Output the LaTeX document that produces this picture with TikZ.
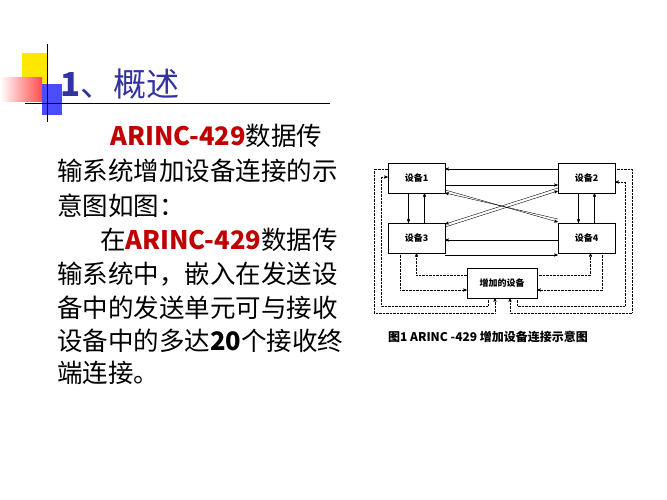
\documentclass[tikz,border=0pt]{standalone}
\usepackage{fontspec}
\setmainfont{Liberation Serif}
\newfontfamily\cjk{Noto Sans CJK SC}
\usetikzlibrary{arrows}

\definecolor{titleblue}{HTML}{3333A0}
\definecolor{arincred}{HTML}{C00000}

\tikzset{
  dev/.style={draw, minimum width=57pt, minimum height=30pt, inner sep=0pt, font=\cjk\fontsize{9}{9}\selectfont\bfseries},
  sol/.style={->, >=stealth', thin},
  dot/.style={->, >=stealth', thin, densely dotted},
  body/.style={anchor=base west, inner sep=0pt, font=\cjk\fontsize{25.5}{25.5}\selectfont},
}

\begin{document}
\begin{tikzpicture}[x=1pt, y=-1pt]
	\useasboundingbox[fill=white] (0,0) rectangle (667,500);
	% corner decoration
	\fill[yellow!90!orange] (22,53) rectangle (47,84);
	\shade[left color=red!0, right color=red!70] (0,78) rectangle (42,102);
	\fill[blue!70] (42,84) rectangle (62,115);
	\draw[thick] (47,44) -- (47,122);
	\draw (25,103) -- (330,103);
	\node[anchor=base west, inner sep=0pt, text=titleblue, font=\cjk\fontsize{33}{33}\selectfont] (TITLE) at (60,97) {\textbf{1}、概述};

	% text
	\node[body] (L1) at (110,146) {\textcolor{arincred}{\textbf{ARINC-429}}数据传};
	\node[body] (L2) at (57,181) {输系统增加设备连接的示};
	\node[body] (L3) at (57,215) {意图如图：};
	\node[body] (L4) at (100,249) {在\textcolor{arincred}{\textbf{ARINC-429}}数据传};
	\node[body] (L5) at (57,283) {输系统中，嵌入在发送设};
	\node[body] (L6) at (57,317) {备中的发送单元可与接收};
	\node[body] (L7) at (57,350) {设备中的多达\textbf{20}个接收终};
	\node[body] (L8) at (57,382) {端连接。};

	% devices
	\node[dev] (DEV1) at (416.5,178) {设备1};
	\node[dev] (DEV2) at (586.5,178) {设备2};
	\node[dev] (DEV3) at (416.5,238) {设备3};
	\node[dev] (DEV4) at (586.5,238) {设备4};
	\node[dev, minimum width=70pt] (ADD) at (502,283) {增加的设备};
	\node[inner sep=0pt, font=\cjk\fontsize{12}{12}\selectfont\bfseries] (CAP) at (488,337) {图1 ARINC -429 增加设备连接示意图};

	% solid links
	\draw[sol] ([yshift=9pt]DEV2.west) -- ([yshift=9pt]DEV1.east);
	\draw[sol] ([yshift=-7pt]DEV1.east) -- ([yshift=-7pt]DEV2.west);
	\draw[sol] ([yshift=-12pt]DEV1.east) -- ([yshift=16pt]DEV4.west);
	\draw[sol] ([yshift=19pt]DEV4.west) -- ([yshift=-15pt]DEV1.east);
	\draw[sol] ([yshift=-10pt]DEV2.west) -- ([yshift=14pt]DEV3.east);
	\draw[sol] ([yshift=11pt]DEV3.east) -- ([yshift=-13pt]DEV2.west);
	\draw[sol] ([yshift=-2pt]DEV4.west) -- ([yshift=-2pt]DEV3.east);
	\draw[sol] ([yshift=-17pt]DEV3.east) -- ([yshift=-17pt]DEV4.west);
	\draw[sol] ([xshift=-8pt]DEV1.south) -- ([xshift=-8pt]DEV3.north);
	\draw[sol] ([xshift=8pt]DEV3.north) -- ([xshift=8pt]DEV1.south);
	\draw[sol] ([xshift=-8pt]DEV2.south) -- ([xshift=-8pt]DEV4.north);
	\draw[sol] ([xshift=8pt]DEV4.north) -- ([xshift=8pt]DEV2.south);

	% dotted links
	\draw[dot] ([yshift=9pt]DEV1.west) -| (374,313) -| ([xshift=-7pt]ADD.south);
	\draw[dot] ([xshift=-14pt]ADD.south) |- (381,306) |- ([yshift=1pt]DEV1.west);
	\draw[dot] ([yshift=9pt]DEV2.east) -| (632,313) -| ([xshift=8pt]ADD.south);
	\draw[dot] ([xshift=15pt]ADD.south) |- (625,306) |- ([yshift=-4pt]DEV2.east);
	\draw[dot] ([xshift=-16pt]DEV3.south) |- ([yshift=-7pt]ADD.west);
	\draw[dot] ([yshift=8pt]ADD.west) -| (DEV3.south);
	\draw[dot] ([yshift=8pt]ADD.east) -| ([xshift=4pt]DEV4.south);
	\draw[dot] ([xshift=16pt]DEV4.south) |- ([yshift=-7pt]ADD.east);
\end{tikzpicture}
\end{document}
